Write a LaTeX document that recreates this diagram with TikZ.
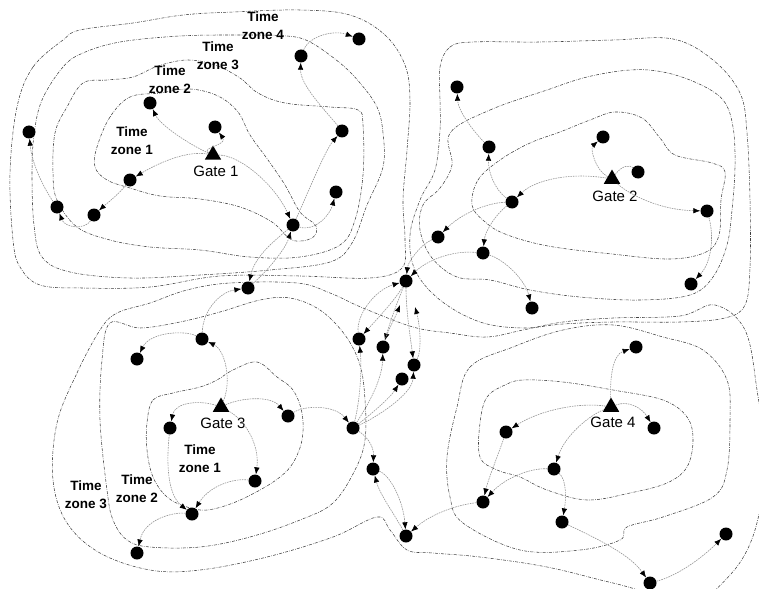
\documentclass[tikz,border=0pt]{standalone}
\usepackage{fontspec}
\setmainfont{Liberation Sans}
\usetikzlibrary{arrows.meta,shapes.geometric}
\begin{document}
\begin{tikzpicture}[x=1pt,y=-1pt,
  dot/.style={circle,fill=black,minimum size=13pt,inner sep=0pt},
  gate/.style={regular polygon,regular polygon sides=3,fill=black,minimum size=19pt,inner sep=0pt},
  contour/.style={draw=black!75,line width=0.55pt,dash pattern=on 3pt off 1.3pt on 0.6pt off 1.3pt},
  conn/.style={draw=black!42,line width=0.6pt,dash pattern=on 1.6pt off 0.9pt,-{Latex[length=7pt,width=5.5pt,color=black]}},
  plainconn/.style={draw=black!42,line width=0.6pt,dash pattern=on 1.6pt off 0.9pt},
  glabel/.style={font=\fontsize{15}{16}\selectfont,inner sep=0pt},
  zlabel/.style={font=\fontsize{13.5}{18}\selectfont\bfseries,align=center,inner sep=0pt}]
\useasboundingbox (0,0) rectangle (759,588);
\clip (0,0) rectangle (759,588);
% ---------- contours, gate 1
\draw[contour] plot[smooth cycle,tension=0.6] coordinates {(130,97) (110,117) (97,147) (95,167) (107,180) (130,188) (160,196) (200,199) (240,207) (272,222) (292,240) (312,238) (316,226) (300,212) (285,185) (268,160) (250,135) (238,112) (218,96) (190,89) (160,93)};
\draw[contour] plot[smooth cycle,tension=0.6] coordinates {(107,80) (83,83) (67,107) (55,133) (53,173) (57,200) (77,227) (110,240) (150,247) (200,250) (250,257) (300,257) (340,245) (355,220) (363,175) (363,125) (358,110) (330,107) (285,103) (258,93) (240,78) (215,65) (187,60) (158,66) (133,77)};
\draw[contour] plot[smooth cycle,tension=0.6] coordinates {(83,53) (63,67) (42,100) (34,135) (32,175) (34,225) (42,257) (70,272) (130,278) (200,275) (270,270) (330,262) (352,243) (367,205) (383,167) (383,133) (377,107) (360,83) (340,63) (310,42) (287,36) (240,35) (180,36) (120,42)};
\draw[contour] plot[smooth cycle,tension=0.6] coordinates {(63,40) (33,67) (17,107) (10,173) (13,240) (20,267) (40,285) (83,288) (150,287) (220,276) (300,276) (370,278) (402,268) (405,240) (403,200) (407,150) (410,100) (405,65) (385,35) (350,15) (300,10) (233,12) (183,15) (133,23) (80,30)};
% ---------- contours, gate 2
\draw[contour] plot[smooth cycle,tension=0.6] coordinates {(472,205) (478,180) (500,160) (530,143) (560,132) (590,120) (615,112) (642,118) (660,138) (675,155) (712,163) (725,172) (721,200) (719,235) (706,252) (670,259) (612,254) (548,246) (505,234) (484,221)};
\draw[contour] plot[smooth cycle,tension=0.6] coordinates {(450,133) (490,110) (547,90) (587,77) (630,70) (663,72) (697,83) (723,100) (733,127) (735,167) (732,210) (727,245) (713,277) (690,295) (640,300) (580,297) (530,290) (490,280) (457,277) (432,258) (420,230) (423,205) (440,188) (452,165)};
\draw[contour] plot[smooth cycle,tension=0.6] coordinates {(440,67) (450,47) (473,42) (540,42) (613,40) (673,39) (713,60) (740,93) (747,133) (750,200) (750,267) (745,305) (725,318) (680,322) (613,322) (563,324) (523,328) (480,322) (440,300) (415,270) (410,235) (420,200) (435,170) (440,130) (440,100)};
% ---------- contours, gate 3
\draw[contour] plot[smooth cycle,tension=0.6] coordinates {(147,423) (153,400) (173,393) (200,387) (217,380) (233,370) (257,362) (277,377) (293,390) (302,413) (302,440) (293,463) (280,477) (260,490) (233,503) (207,510) (187,507) (167,497) (153,477) (147,450)};
\draw[contour] plot[smooth cycle,tension=0.6] coordinates {(110,323) (140,328) (180,322) (220,312) (260,300) (290,298) (320,310) (345,335) (360,365) (365,400) (365,440) (355,470) (333,503) (300,520) (250,537) (200,547) (150,547) (127,540) (113,520) (107,490) (100,420) (102,360)};
\draw[contour] plot[smooth cycle,tension=0.6] coordinates {(57,423) (77,373) (100,330) (117,313) (150,303) (187,290) (230,283) (297,283) (330,293) (363,308) (413,327) (450,333) (487,337) (523,330) (563,322) (613,318) (680,316) (715,305) (745,330) (757,390) (765,460) (755,530) (730,575) (690,600) (613,583) (547,567) (480,557) (433,553) (407,550) (390,530) (377,517) (333,537) (267,557) (200,570) (150,570) (100,553) (67,523) (53,480)};
% ---------- contours, gate 4
\draw[contour] plot[smooth cycle,tension=0.6] coordinates {(480,423) (487,397) (505,385) (523,380) (563,382) (613,390) (663,400) (687,417) (693,440) (687,467) (667,483) (630,493) (587,500) (547,490) (520,477) (497,470) (480,457)};
\draw[contour] plot[smooth cycle,tension=0.6] coordinates {(457,407) (470,367) (513,347) (563,330) (613,325) (663,337) (703,350) (727,380) (730,420) (727,470) (713,497) (663,517) (627,527) (620,540) (580,550) (520,550) (463,523) (450,497) (447,457)};
% ---------- gates
\node[gate] (g1) at (213,155) {};
\node[gate] (g2) at (612,179) {};
\node[gate] (g3) at (221,407) {};
\node[gate] (g4) at (611,407) {};
\node[glabel] (lg1) at (216,171) {Gate 1};
\node[glabel] (lg2) at (615,196) {Gate 2};
\node[glabel] (lg3) at (223,423) {Gate 3};
\node[glabel] (lg4) at (613,422) {Gate 4};
% ---------- zone labels
\node[zlabel] (za1) at (132,141) {Time\\zone 1};
\node[zlabel] (za2) at (170,80) {Time\\zone 2};
\node[zlabel] (za3) at (218,56) {Time\\zone 3};
\node[zlabel] (za4) at (263,26) {Time\\zone 4};
\node[zlabel] (zc1) at (200,459) {Time\\zone 1};
\node[zlabel] (zc2) at (137,489) {Time\\zone 2};
\node[zlabel] (zc3) at (86,495) {Time\\zone 3};
% ---------- dots
\node[dot] (n1) at (29,132) {};
\node[dot] (n2) at (150,103) {};
\node[dot] (n3) at (215,127) {};
\node[dot] (n4) at (130,180) {};
\node[dot] (n5) at (57,207) {};
\node[dot] (n6) at (94,215) {};
\node[dot] (n7) at (301,56) {};
\node[dot] (n8) at (359,39) {};
\node[dot] (n9) at (342,131) {};
\node[dot] (n10) at (336,192) {};
\node[dot] (n11) at (293,225) {};
\node[dot] (n12) at (248,288) {};
\node[dot] (n13) at (457,87) {};
\node[dot] (n14) at (489,147) {};
\node[dot] (n15) at (603,137) {};
\node[dot] (n16) at (638,172) {};
\node[dot] (n17) at (707,211) {};
\node[dot] (n18) at (512,202) {};
\node[dot] (n19) at (438,237) {};
\node[dot] (n20) at (483,253) {};
\node[dot] (n21) at (406,281) {};
\node[dot] (n22) at (691,284) {};
\node[dot] (n23) at (532,308) {};
\node[dot] (n25) at (359,339) {};
\node[dot] (n26) at (383,347) {};
\node[dot] (n27) at (414,365) {};
\node[dot] (n28) at (402,379) {};
\node[dot] (n29) at (353,428) {};
\node[dot] (n30) at (202,339) {};
\node[dot] (n31) at (137,359) {};
\node[dot] (n32) at (170,428) {};
\node[dot] (n33) at (288,416) {};
\node[dot] (n34) at (255,481) {};
\node[dot] (n35) at (192,514) {};
\node[dot] (n36) at (137,553) {};
\node[dot] (n37) at (373,469) {};
\node[dot] (n38) at (636,347) {};
\node[dot] (n39) at (654,428) {};
\node[dot] (n40) at (506,432) {};
\node[dot] (n41) at (554,469) {};
\node[dot] (n42) at (483,502) {};
\node[dot] (n43) at (562,522) {};
\node[dot] (n44) at (406,536) {};
\node[dot] (n45) at (726,534) {};
\node[dot] (n46) at (650,583) {};
\coordinate (t1) at (400,305);
\coordinate (t2) at (415,307);
% ---------- connectors, gate 1
\draw[conn] (g1) .. controls (190,145) and (160,125) .. (n2);
\draw[conn] (g1) .. controls (200,148) and (228,145) .. (n3);
\draw[conn] (g1) .. controls (185,150) and (155,165) .. (n4);
\draw[conn] (g1) .. controls (240,155) and (275,185) .. (n11);
\draw[conn] (n4) .. controls (118,195) and (105,205) .. (n6);
\draw[conn] (n6) .. controls (85,230) and (65,228) .. (n5);
\draw[conn] (n5) .. controls (45,190) and (32,165) .. (n1);
\draw[conn] (n11) .. controls (305,200) and (325,150) .. (n9);
\draw[conn] (n11) .. controls (315,232) and (330,215) .. (n10);
\draw[conn] (n9) .. controls (325,110) and (300,85) .. (n7);
\draw[conn] (n7) .. controls (310,35) and (335,30) .. (n8);
\draw[conn] (n12) .. controls (268,270) and (285,250) .. (n11);
\draw[conn] (n11) .. controls (278,238) and (255,255) .. (n12);
\draw[conn] (n30) .. controls (203,310) and (220,292) .. (n12);
% ---------- connectors, gate 2
\draw[conn] (g2) .. controls (595,170) and (590,148) .. (n15);
\draw[plainconn] (g2) .. controls (622,165) and (630,165) .. (n16);
\draw[conn] (g2) .. controls (630,195) and (660,210) .. (n17);
\draw[conn] (g2) .. controls (570,172) and (535,180) .. (n18);
\draw[conn] (n17) .. controls (714,235) and (712,262) .. (n22);
\draw[conn] (n18) .. controls (495,190) and (488,172) .. (n14);
\draw[conn] (n14) .. controls (472,130) and (458,110) .. (n13);
\draw[conn] (n18) .. controls (485,203) and (460,215) .. (n19);
\draw[conn] (n18) .. controls (495,215) and (485,232) .. (n20);
\draw[conn] (n20) .. controls (450,250) and (425,262) .. (n21);
\draw[conn] (n19) .. controls (420,245) and (408,262) .. (n21);
\draw[conn] (n20) .. controls (505,260) and (525,280) .. (n23);
% ---------- connectors, centre
\draw[conn] (n25) .. controls (356,315) and (375,290) .. (n21);
\draw[conn] (n21) .. controls (395,300) and (378,318) .. (n25);
\draw[conn] (n21) .. controls (398,300) and (390,322) .. (n26);
\draw[conn] (n21) .. controls (406,310) and (410,335) .. (n27);
\draw[conn] (n26) .. controls (388,330) and (395,318) .. (t1);
\draw[conn] (n27) .. controls (422,350) and (420,325) .. (t2);
\draw[conn] (n29) .. controls (360,400) and (362,370) .. (n25);
\draw[conn] (n29) .. controls (368,405) and (382,380) .. (n26);
\draw[conn] (n29) .. controls (370,415) and (390,398) .. (n28);
\draw[conn] (n29) .. controls (375,418) and (412,395) .. (n27);
\draw[conn] (n33) .. controls (305,405) and (335,405) .. (n29);
\draw[conn] (n29) .. controls (365,435) and (374,445) .. (n37);
\draw[conn] (n44) .. controls (395,515) and (380,495) .. (n37);
\draw[conn] (n37) .. controls (390,475) and (403,500) .. (n44);
\draw[conn] (n42) .. controls (455,505) and (430,515) .. (n44);
\draw[conn] (n43) .. controls (600,540) and (630,555) .. (n46);
\draw[conn] (n46) .. controls (680,575) and (705,555) .. (n45);
% ---------- connectors, gate 3
\draw[conn] (g3) .. controls (232,380) and (225,350) .. (n30);
\draw[conn] (n30) .. controls (185,330) and (150,332) .. (n31);
\draw[conn] (g3) .. controls (200,400) and (175,402) .. (n32);
\draw[conn] (g3) .. controls (240,398) and (270,395) .. (n33);
\draw[conn] (g3) .. controls (245,420) and (260,445) .. (n34);
\draw[conn] (n32) .. controls (166,465) and (168,495) .. (n35);
\draw[conn] (n34) .. controls (235,478) and (210,485) .. (n35);
\draw[conn] (n35) .. controls (175,512) and (145,518) .. (n36);
% ---------- connectors, gate 4
\draw[conn] (g4) .. controls (610,380) and (612,355) .. (n38);
\draw[conn] (g4) .. controls (628,400) and (642,408) .. (n39);
\draw[conn] (g4) .. controls (580,402) and (540,410) .. (n40);
\draw[conn] (g4) .. controls (590,415) and (565,435) .. (n41);
\draw[conn] (n40) .. controls (498,455) and (488,480) .. (n42);
\draw[conn] (n41) .. controls (530,468) and (505,478) .. (n42);
\draw[conn] (n41) .. controls (567,480) and (566,500) .. (n43);
\end{tikzpicture}
\end{document}
